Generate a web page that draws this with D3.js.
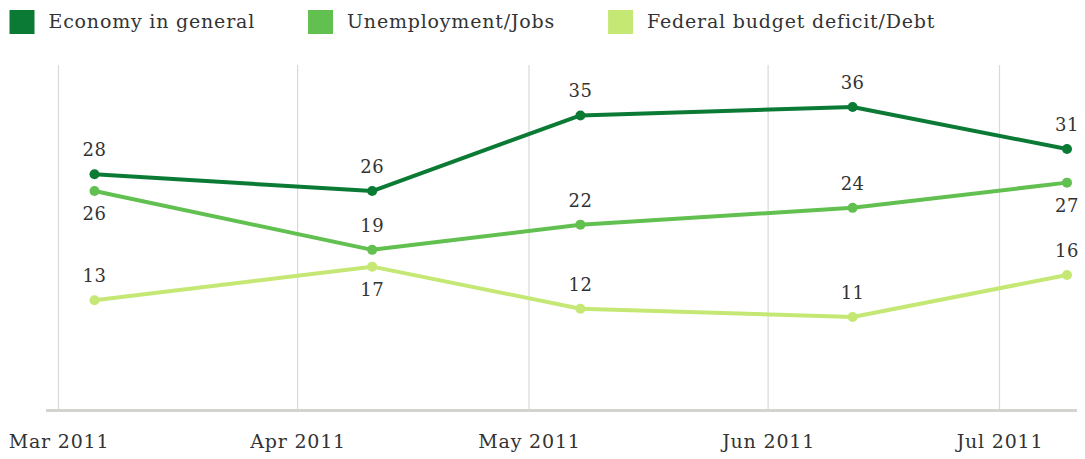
<!DOCTYPE html>
<html>
<head>
<meta charset="utf-8">
<script src="https://cdn.jsdelivr.net/npm/d3@7"></script>
<style>
  html, body { margin: 0; padding: 0; background: #fff; }
  svg { display: block; }
  text { font-family: "DejaVu Serif", "Liberation Serif", serif; fill: #333; }
</style>
</head>
<body>
<svg id="chart" width="1085" height="459"></svg>
<script>
// Poll dates (field-period midpoints) and percentages per issue
const dates = ["2011-03-05T16:00", "2011-04-10T16:00", "2011-05-07T16:00", "2011-06-11T23:00", "2011-07-09T18:00"];
const seriesNames = ["Economy in general", "Unemployment/Jobs", "Federal budget deficit/Debt"];
const economy = [28, 26, 35, 36, 31];
const unemployment = [26, 19, 22, 24, 27];
const deficit = [13, 17, 12, 11, 16];
const tickDates = ["2011-03-01", "2011-04-01", "2011-05-01", "2011-06-01", "2011-07-01"];
const tickLabels = ["Mar 2011", "Apr 2011", "May 2011", "Jun 2011", "Jul 2011"];
// label placement per point: 1 = above, -1 = below
const economyPos = [1, 1, 1, 1, 1];
const unemploymentPos = [-1, 1, 1, 1, -1];
const deficitPos = [1, -1, 1, 1, 1];

const colors = ["#0b7a35", "#62c050", "#c5e874"];

const parse = d3.isoParse;
const svg = d3.select("#chart");

const x = d3.scaleTime()
  .domain([parse("2011-03-01"), parse("2011-07-01")])
  .range([58.5, 999.5]);
const y = d3.scaleLinear().domain([0, 41]).range([409.5, 65]);

// vertical grid lines at month starts
svg.append("g")
  .selectAll("line")
  .data(tickDates.map(parse))
  .join("line")
  .attr("x1", d => x(d)).attr("x2", d => x(d))
  .attr("y1", y(41)).attr("y2", y(0))
  .attr("stroke", "#d9d9d6")
  .attr("stroke-width", 1.2);

// baseline axis
const xAxis = d3.axisBottom(x)
  .tickValues(tickDates.map(parse))
  .tickFormat((d, i) => tickLabels[i])
  .tickSize(0)
  .tickPadding(24);
const axisG = svg.append("g")
  .attr("transform", `translate(0,${y(0) + 1})`)
  .call(xAxis);
axisG.select(".domain").remove();
axisG.append("line")
  .attr("x1", 46).attr("x2", 1077)
  .attr("stroke", "#d3d3cf")
  .attr("stroke-width", 3);
axisG.selectAll(".tick text")
  .attr("font-size", 19)
  .attr("letter-spacing", 0.8)
  .attr("font-family", "DejaVu Serif, serif")
  .attr("fill", "#333");

const series = [
  { name: seriesNames[0], values: economy, pos: economyPos, color: colors[0] },
  { name: seriesNames[1], values: unemployment, pos: unemploymentPos, color: colors[1] },
  { name: seriesNames[2], values: deficit, pos: deficitPos, color: colors[2] }
];

const line = d3.line()
  .x((d, i) => x(parse(dates[i])))
  .y(d => y(d));

// draw lighter series first so the darker lines sit on top
const drawOrder = [2, 1, 0];
drawOrder.forEach(k => {
  const s = series[k];
  const g = svg.append("g");
  g.append("path")
    .datum(s.values)
    .attr("d", line)
    .attr("fill", "none")
    .attr("stroke", s.color)
    .attr("stroke-width", 4)
    .attr("stroke-linejoin", "round");
  g.selectAll("circle")
    .data(s.values)
    .join("circle")
    .attr("cx", (d, i) => x(parse(dates[i])))
    .attr("cy", d => y(d))
    .attr("r", 5)
    .attr("fill", s.color);
});

// value labels
series.forEach(s => {
  svg.append("g")
    .selectAll("text")
    .data(s.values)
    .join("text")
    .attr("x", (d, i) => x(parse(dates[i])))
    .attr("y", (d, i) => y(d) + (s.pos[i] > 0 ? -18 : 29))
    .attr("text-anchor", "middle")
    .attr("font-size", 18)
    .attr("letter-spacing", 0.5)
    .text(d => d);
});

// legend
const legend = svg.append("g");
let lx = 9.5;
series.forEach(s => {
  legend.append("rect")
    .attr("x", lx).attr("y", 10)
    .attr("width", 25).attr("height", 24)
    .attr("fill", s.color);
  const t = legend.append("text")
    .attr("x", lx + 39).attr("y", 28)
    .attr("font-size", 19)
    .attr("letter-spacing", 0.8)
    .text(s.name);
  lx += 39 + t.node().getComputedTextLength() + 53;
});
</script>
</body>
</html>
